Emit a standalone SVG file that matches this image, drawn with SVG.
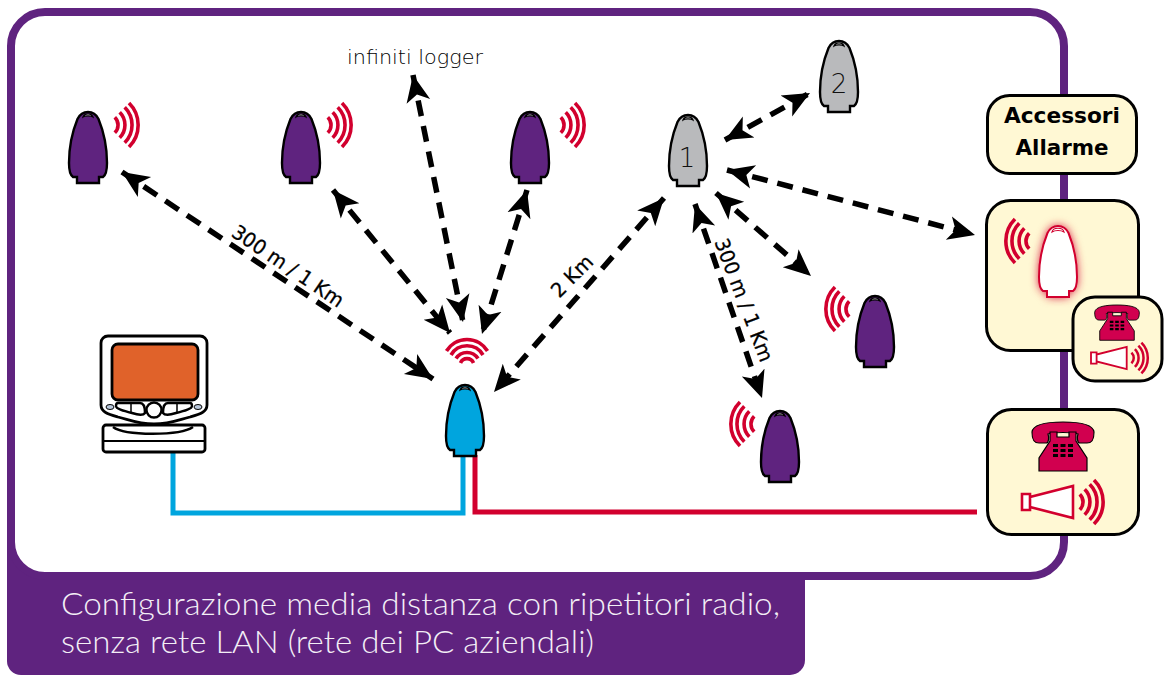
<svg xmlns="http://www.w3.org/2000/svg" width="1165" height="675" viewBox="0 0 1165 675">
<style>
text{font-family:"DejaVu Sans","Liberation Sans",sans-serif}
.box{fill:#fff8d4;stroke:#000;stroke-width:3}
.link{fill:none;stroke:#000;stroke-width:5.500;stroke-dasharray:16 10;marker-start:url(#ah);marker-end:url(#ah)}
.wire{fill:none;stroke-width:5}
.lab{font-size:20px;fill:#000;stroke:#000;stroke-width:.3;text-anchor:middle}
.num{font-size:26px;font-weight:300;fill:#111;text-anchor:middle}
.wv{fill:none;stroke:#d2002e;stroke-width:3.6}
.purple{fill:#5f237f}.gray{fill:#b9babc}.blue{fill:#00a5de}
.cap{font-family:"Lato","Liberation Sans",sans-serif;font-size:31px;font-weight:300;fill:#f3eef6}
</style>
<defs>
<marker id="ah" markerUnits="userSpaceOnUse" markerWidth="32" markerHeight="30" refX="27" refY="15" orient="auto-start-reverse"><path d="M27 15L0 3L7 15L0 27Z" fill="#000"/></marker>
<filter id="glow" x="-50%" y="-50%" width="200%" height="200%"><feGaussianBlur stdDeviation="5"/></filter>
<path id="shell" d="M0,1C5,1 8,3 10.500,8C15,19 19,36 19,52C19,60 18,64 15,66L11,66L11,72L-11,72L-11,66L-15,66C-18,64 -19,60 -19,52C-19,36 -15,19 -10.500,8C-8,3 -5,1 0,1Z"/>
<g id="bullet"><use href="#shell" stroke="#000" stroke-width="2.400"/><path d="M-5,6C-4,2 4,2 5,6C3,4.500 -3,4.500 -5,6Z" fill="#ddd" stroke="#000" stroke-width="1.200"/></g>
<g id="waves" class="wv"><path d="M7.800 -7.800A11 11 0 0 1 7.800 7.800"/><path d="M12.700 -12.700A18 18 0 0 1 12.700 12.700"/><path d="M17.700 -17.700A25 25 0 0 1 17.700 17.700"/><path d="M22 -22A31 31 0 0 1 22 22"/></g>
<g id="phone"><path d="M-31,10C-30,2 -15,0 0,0C15,0 30,2 31,10C31,18 29,21 24,21L17,21C14,21 14,15 15,12C8,10 -8,10 -15,12C-14,15 -14,21 -17,21L-24,21C-29,21 -31,18 -31,10Z" fill="#d1004f" stroke="#000" stroke-width="1.200"/><path d="M-24,49L-24,36L-13,19L-13,10L-6,10L-6,15L6,15L6,10L13,10L13,19L24,36L24,49Z" fill="#d1004f" stroke="#000" stroke-width="1.200"/><path d="M-10 22h5v3h-5zM-2.500 22h5v3h-5zM5 22h5v3h-5zM-10 27h5v3h-5zM-2.500 27h5v3h-5zM5 27h5v3h-5zM-10 32h5v3h-5zM-2.500 32h5v3h-5zM5 32h5v3h-5z" fill="#000"/></g>
<g id="horn"><path d="M-25,-8H-17V8H-25ZM-17,-5L26,-16V16L-17,5Z" fill="#fff" stroke="#d2002e" stroke-width="2.600"/><use href="#waves" x="25"/></g>
</defs>

<g id="frame">
<path d="M7 520V661A14 14 0 0 0 21 675H790A15 15 0 0 0 805 660V520Z" fill="#5f237f"/>
<rect x="11" y="12" width="1053" height="564" rx="34" fill="#fff" stroke="#5f237f" stroke-width="8"/>
<text class="cap" x="61" y="615" textLength="719" lengthAdjust="spacingAndGlyphs">Configurazione media distanza con ripetitori radio,</text>
<text class="cap" x="61" y="653" textLength="533" lengthAdjust="spacingAndGlyphs">senza rete LAN (rete dei PC aziendali)</text>
</g>

<g id="connectors">
<path class="link" d="M122 172L433 379"/>
<path class="link" d="M333 190L450 333"/>
<path class="link" d="M413 75L463 322"/>
<path class="link" d="M527 190L482 334"/>
<path class="link" d="M664 198L494 392"/>
<path class="link" d="M695 204L762 398"/>
<path class="link" d="M716 193L811 276"/>
<path class="link" d="M725 140L810 93"/>
<path class="link" d="M727 170L975 235"/>
<path class="wire" stroke="#00a5de" d="M173 453V513H463V455"/>
<path class="wire" stroke="#d2002e" d="M475 455V512H977"/>
<g id="labels">
<text class="lab" transform="translate(288 266) rotate(34)" y="7" textLength="130" lengthAdjust="spacingAndGlyphs">300 m / 1 Km</text>
<text class="lab" transform="translate(572 276) rotate(-45)" y="7" textLength="50" lengthAdjust="spacingAndGlyphs">2 Km</text>
<text class="lab" transform="translate(744 300) rotate(69)" y="7" textLength="130" lengthAdjust="spacingAndGlyphs">300 m / 1 Km</text>
</g>
</g>

<g id="logger-label"><text x="415" y="64" font-size="20" font-weight="200" text-anchor="middle" fill="#000" textLength="136" lengthAdjust="spacingAndGlyphs">infiniti logger</text></g>

<g id="node-p1"><use href="#bullet" x="88" y="111" class="purple"/><use href="#waves" x="107" y="125"/></g>
<g id="node-p2"><use href="#bullet" x="301" y="111" class="purple"/><use href="#waves" x="320" y="125"/></g>
<g id="node-p3"><use href="#bullet" x="530" y="111" class="purple"/><use href="#waves" x="553" y="125"/></g>
<g id="node-p4"><use href="#bullet" x="875" y="295" class="purple"/><use href="#waves" transform="translate(857 309) scale(-1 1)"/></g>
<g id="node-p5"><use href="#bullet" x="780" y="410" class="purple"/><use href="#waves" transform="translate(762 424) scale(-1 1)"/></g>
<g id="node-1"><use href="#bullet" x="688" y="114" class="gray"/><text class="num" x="687" y="167">1</text></g>
<g id="node-2"><use href="#bullet" x="839" y="40" class="gray"/><text class="num" x="839" y="93">2</text></g>

<g id="node-master"><use href="#bullet" x="465" y="384" class="blue"/>
<g class="wv"><path d="M446.500 351A24 24 0 0 1 487.500 351"/><path d="M451 355A18.500 18.500 0 0 1 483 355"/><path d="M456 358.500A13 13 0 0 1 478 358.500"/><path d="M460.500 363A7 7 0 0 1 473.500 363"/></g></g>

<g id="node-pc">
<path d="M108 336H200A7 7 0 0 1 207 343V405C207 412 200 414 190 417C178 420 170 424 154 424C138 424 130 420 118 417C108 414 101 412 101 405V343A7 7 0 0 1 108 336Z" fill="#fff" stroke="#000" stroke-width="2.800"/>
<rect x="112" y="344" width="86" height="56" rx="6" fill="#e0622a" stroke="#000" stroke-width="2.800"/>
<path d="M118 403H140C144 403 145 408 145 413C143 416 138 415 132 413C124 411 116 409 116 406C116 404 117 403 118 403ZM190 403H168C164 403 163 408 163 413C165 416 170 415 176 413C184 411 192 409 192 406C192 404 191 403 190 403Z" fill="#fff" stroke="#000" stroke-width="2.400"/>
<path d="M131 403V413M177 403V413" stroke="#000" stroke-width="1.500"/>
<circle cx="154" cy="410" r="7.500" fill="#fff" stroke="#000" stroke-width="2.400"/>
<ellipse cx="110" cy="407" rx="4" ry="2.500" fill="#b9c8dc" stroke="#000"/><ellipse cx="198" cy="407" rx="4" ry="2.500" fill="#b9c8dc" stroke="#000"/>
<rect x="103" y="425" width="102" height="27" rx="3" fill="#fff" stroke="#000" stroke-width="2.800"/>
<path d="M103 441H205" stroke="#000" stroke-width="2"/>
<path d="M113 427C125 436 180 436 193 427" fill="none" stroke="#000" stroke-width="2.400"/>
</g>

<g id="box-accessori"><rect class="box" x="987.500" y="95.500" width="149" height="78" rx="22"/>
<text x="1062" y="123" font-size="22" font-weight="700" text-anchor="middle" fill="#000" textLength="116" lengthAdjust="spacingAndGlyphs">Accessori</text>
<text x="1062" y="155" font-size="22" font-weight="700" text-anchor="middle" fill="#000" textLength="93" lengthAdjust="spacingAndGlyphs">Allarme</text></g>

<g id="box-alarm"><rect class="box" x="986.500" y="200.500" width="152" height="150" rx="24"/>
<use href="#shell" x="1058" y="225" fill="#d2002e" filter="url(#glow)"/>
<use href="#shell" x="1058" y="225" fill="#fff" stroke="#d2002e" stroke-width="2"/>
<path d="M1052,232C1053,227 1063,227 1064,232C1061,230 1055,230 1052,232Z" fill="#fff" stroke="#d2002e" stroke-width="1.200"/>
<use href="#waves" transform="translate(1037 241) scale(-1 1)"/></g>

<g id="box-alarm-devices"><rect class="box" x="1073" y="297" width="89" height="84" rx="22"/>
<use href="#phone" transform="translate(1117 305) scale(.72)"/>
<use href="#horn" transform="translate(1108.500 358) scale(.7)"/></g>

<g id="box-devices"><rect class="box" x="987.500" y="409.500" width="151" height="125" rx="24"/>
<use href="#phone" x="1063" y="422"/>
<use href="#horn" x="1047" y="502"/></g>
</svg>
